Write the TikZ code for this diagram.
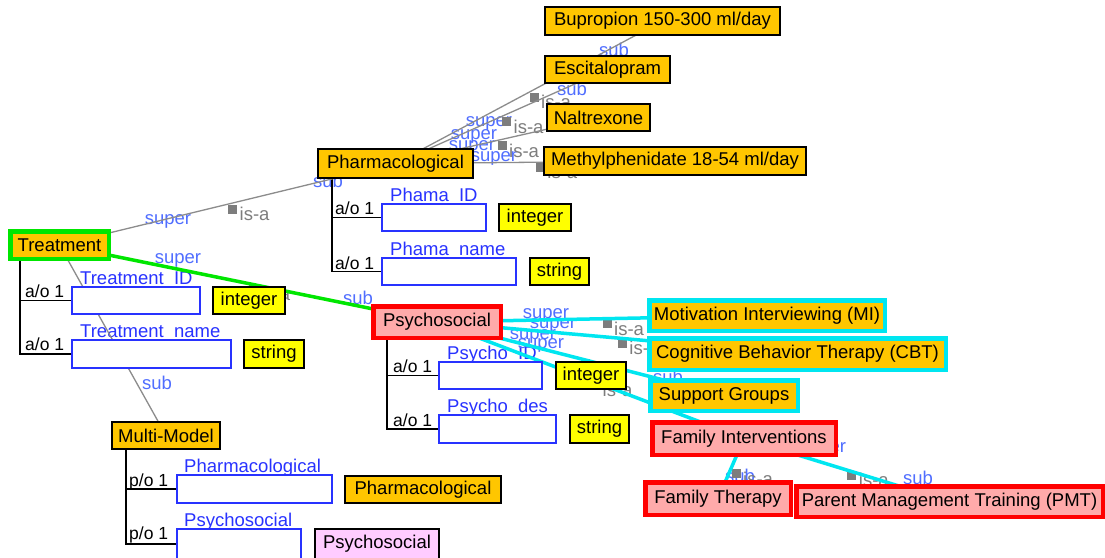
\documentclass[tikz,border=0pt]{standalone}
\usepackage{fontspec}
\setmainfont{Liberation Sans}
\newcommand{\fsz}{\fontsize{18.5}{21}\selectfont}
\newcommand{\fsm}{\fontsize{17.5}{20}\selectfont}
\definecolor{orng}{RGB}{255,198,0}
\definecolor{yel}{RGB}{255,255,0}
\definecolor{pnk}{RGB}{255,170,170}
\definecolor{mag}{RGB}{255,204,255}
\definecolor{grn}{RGB}{0,230,0}
\definecolor{cyn}{RGB}{0,230,240}
\definecolor{rd}{RGB}{255,0,0}
\definecolor{lblue}{RGB}{80,110,255}
\definecolor{dblue}{RGB}{40,50,255}
\definecolor{gline}{RGB}{140,140,140}
\definecolor{gsq}{RGB}{125,125,125}
\pgfdeclarelayer{bgl}
\pgfdeclarelayer{lbl}
\pgfdeclarelayer{lines}
\pgfsetlayers{bgl,lbl,lines,main}
\tikzset{
 every node/.style={font=\fsz, inner sep=0pt, text=black},
 bx/.style={draw=black, line width=1.6pt, rectangle, inner xsep=2pt},
 cls/.style={bx, fill=orng},
 yelbox/.style={bx, fill=yel},
 magbox/.style={bx, fill=mag},
 slotbox/.style={draw=dblue, line width=1.6pt, fill=white, rectangle},
 hl/.style={rectangle, line width=4.5pt, inner xsep=2pt},
 grnbox/.style={hl, draw=grn, fill=orng},
 redbox/.style={hl, draw=rd, fill=pnk},
 cynbox/.style={hl, draw=cyn, fill=orng},
 isaline/.style={draw=gline, line width=1.3pt},
 grnline/.style={draw=grn, line width=3.5pt},
 cynline/.style={draw=cyn, line width=3.5pt},
 sq/.style={fill=gsq, minimum size=9pt, inner sep=0pt},
 isalbl/.style={text=gsq, anchor=west},
 rolelbl/.style={text=lblue},
 slotlbl/.style={text=dblue, anchor=base west},
 card/.style={text=black, anchor=base west, font=\fsm},
 conn/.style={draw=black, line width=1.6pt},
}
\newcommand{\isaedge}[3]{%
 \begin{pgfonlayer}{lines}\path[#1] (#2.center) -- (#3.center) coordinate[pos=0.5] (m-#2-#3);\end{pgfonlayer}
 \begin{pgfonlayer}{lbl}\node[sq] (q-#2-#3) at ([shift={(5,5)}]m-#2-#3) {};
 \node[isalbl] (i-#2-#3) at ([shift={(12,10)}]m-#2-#3) {is-a};\end{pgfonlayer}}
\begin{document}
\begin{tikzpicture}[x=1pt,y=-1pt]
\useasboundingbox (0,0) rectangle (1105,557);
\begin{pgfonlayer}{bgl}
\fill[white] (0,0) rectangle (1105,557);
\end{pgfonlayer}

% class nodes
\node[grnbox, minimum width=98.5, minimum height=27.5] (treat) at (59.5,245) {Treatment};
\node[cls, minimum width=155.4, minimum height=29.4] (pharm) at (395.5,163.5) {Pharmacological};
\node[redbox, minimum width=127.5, minimum height=31.5] (psy) at (437,322) {Psychosocial};
\node[cls, minimum width=108.4, minimum height=27.4] (mm) at (166,435.5) {Multi-Model};
\node[cls, minimum width=235.4, minimum height=28.4] (bup) at (662.5,21) {Bupropion 150-300 ml/day};
\node[cls, minimum width=125.4, minimum height=27.4] (esc) at (607.5,69.5) {Escitalopram};
\node[cls, minimum width=103.4, minimum height=27.4] (nal) at (598.5,117.5) {Naltrexone};
\node[cls, minimum width=262.4, minimum height=28.4] (meth) at (675,161) {Methylphenidate 18-54 ml/day};
\node[cynbox, minimum width=235.5, minimum height=30.5] (mi) at (767,315.5) {Motivation Interviewing (MI)};
\node[cynbox, minimum width=296.5, minimum height=31.5] (cbt) at (797.5,354) {Cognitive Behavior Therapy (CBT)};
\node[cynbox, minimum width=147.5, minimum height=30.5] (sg) at (724,395.5) {Support Groups};
\node[redbox, minimum width=183.5, minimum height=32.5] (fi) at (744,438.5) {Family Interventions};
\node[redbox, minimum width=145.5, minimum height=32.5] (ft) at (718,498.5) {Family Therapy};
\node[redbox, minimum width=306.5, minimum height=30.5] (pmt) at (949.5,501.5) {Parent Management Training (PMT)};

% slot boxes
\node[slotbox, minimum width=128.4, minimum height=27.4] (tid) at (136,300.5) {};
\node[slotbox, minimum width=159.4, minimum height=28.4] (tname) at (151.5,354) {};
\node[slotbox, minimum width=104.4, minimum height=27.4] (pid) at (434,217.5) {};
\node[slotbox, minimum width=134.4, minimum height=27.4] (pname) at (449,271.5) {};
\node[slotbox, minimum width=103.4, minimum height=27.4] (psid) at (490.5,375.5) {};
\node[slotbox, minimum width=117.4, minimum height=28.4] (psdes) at (497.5,429) {};
\node[slotbox, minimum width=155.4, minimum height=28.4] (mpharm) at (254.5,489) {};
\node[slotbox, minimum width=124.4, minimum height=30.4] (mpsy) at (239,544) {};

% type boxes
\node[yelbox, minimum width=72.4, minimum height=27.4] (ty1) at (249,300.5) {integer};
\node[yelbox, minimum width=60.4, minimum height=28.4] (ty2) at (274,354) {string};
\node[yelbox, minimum width=72.4, minimum height=27.4] (ty3) at (535,217.5) {integer};
\node[yelbox, minimum width=59.4, minimum height=27.4] (ty4) at (559.5,271.5) {string};
\node[yelbox, minimum width=70.4, minimum height=27.4] (ty5) at (591,375.5) {integer};
\node[yelbox, minimum width=59.4, minimum height=28.4] (ty6) at (599.5,429) {string};
\node[cls, minimum width=156.4, minimum height=27.4] (ty7) at (423,489.5) {Pharmacological};
\node[magbox, minimum width=124.4, minimum height=30.4] (ty8) at (377,544) {Psychosocial};

% slot labels and cardinalities
\begin{pgfonlayer}{lbl}
\node[slotlbl] (l-tid) at (80,284) {Treatment\_ID};
\node[slotlbl] (l-tname) at (80,337) {Treatment\_name};
\node[slotlbl] (l-pid) at (390,201) {Phama\_ID};
\node[slotlbl] (l-pname) at (390,255) {Phama\_name};
\node[slotlbl] (l-psid) at (447,359) {Psycho\_ID};
\node[slotlbl] (l-psdes) at (447,412) {Psycho\_des};
\node[slotlbl] (l-mph) at (184,472) {Pharmacological};
\node[slotlbl] (l-mps) at (184,526) {Psychosocial};
\node[card] (c1) at (25,297) {a/o 1};
\node[card] (c2) at (25,350) {a/o 1};
\node[card] (c3) at (335,214) {a/o 1};
\node[card] (c4) at (335,269) {a/o 1};
\node[card] (c5) at (393,372) {a/o 1};
\node[card] (c6) at (393,426) {a/o 1};
\node[card] (c7) at (129,486) {p/o 1};
\node[card] (c8) at (129,539) {p/o 1};
% role labels
\node[rolelbl] (r1) at (168,221) {super};
\node[rolelbl] (r2) at (328,181) {sub};
\node[rolelbl] (r3) at (178,260) {super};
\node[rolelbl] (r4) at (358,298) {sub};
\node[rolelbl] (r5) at (157,383) {sub};
\node[rolelbl] (r6) at (489,123) {super};
\node[rolelbl] (r7) at (614,50) {sub};
\node[rolelbl] (r8) at (474,136) {super};
\node[rolelbl] (r9) at (572,89) {sub};
\node[rolelbl] (r10) at (472,147) {super};
\node[rolelbl] (r11) at (494,158) {super};
\node[rolelbl] (r12) at (546,315) {super};
\node[rolelbl] (r13) at (553,325) {super};
\node[rolelbl] (r14) at (533,336) {super};
\node[rolelbl] (r15) at (668,377) {sub};
\node[rolelbl] (r16) at (541,345) {super};
\node[rolelbl] (r17) at (823,449) {super};
\node[rolelbl] (r18) at (918,478) {sub};
\node[rolelbl] (r19) at (740,476) {sub};
\end{pgfonlayer}

% slot connectors
\begin{pgfonlayer}{lines}
\draw[conn] ([xshift=12pt]treat.south west) |- (tid.west);
\draw[conn] ([xshift=12pt]treat.south west) |- (tname.west);
\draw[conn] ([xshift=15pt]pharm.south west) |- (pid.west);
\draw[conn] ([xshift=15pt]pharm.south west) |- (pname.west);
\draw[conn] ([xshift=16pt]psy.south west) |- (psid.west);
\draw[conn] ([xshift=16pt]psy.south west) |- (psdes.west);
\draw[conn] ([xshift=15pt]mm.south west) |- (mpharm.west);
\draw[conn] ([xshift=15pt]mm.south west) |- (mpsy.west);
\end{pgfonlayer}

% is-a edges
\isaedge{isaline}{treat}{pharm}
\isaedge{grnline}{treat}{psy}
\isaedge{isaline}{treat}{mm}
\isaedge{isaline}{pharm}{bup}
\isaedge{isaline}{pharm}{esc}
\isaedge{isaline}{pharm}{nal}
\isaedge{isaline}{pharm}{meth}
\isaedge{cynline}{psy}{mi}
\isaedge{cynline}{psy}{cbt}
\isaedge{cynline}{psy}{sg}
\isaedge{cynline}{psy}{fi}
\isaedge{cynline}{fi}{ft}
\isaedge{cynline}{fi}{pmt}
\end{tikzpicture}
\end{document}
